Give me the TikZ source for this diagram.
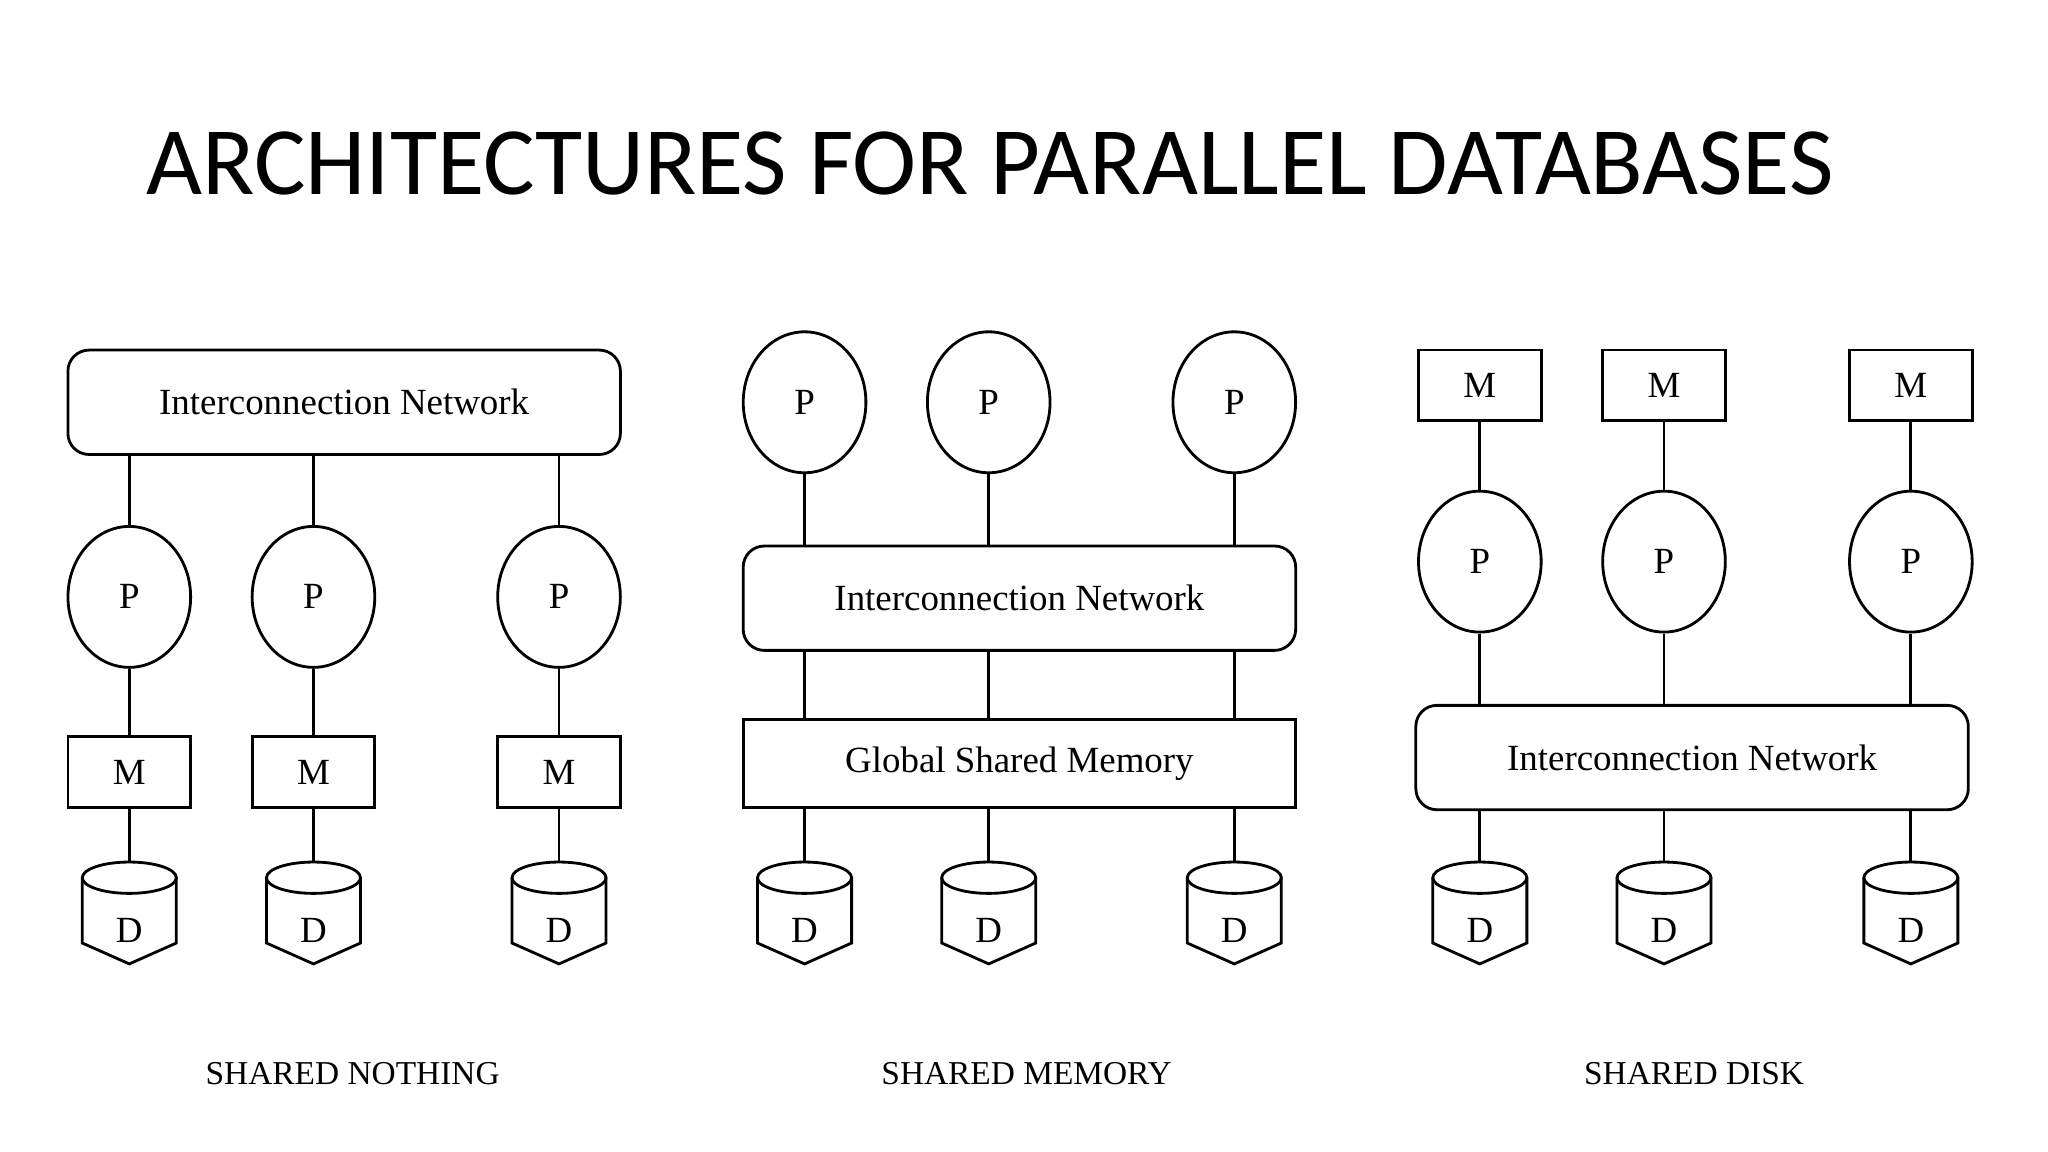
\documentclass[tikz,border=0pt]{standalone}
\usepackage{fontspec}
\setmainfont{Liberation Serif}
\newfontfamily\titlefont{Carlito}
\usetikzlibrary{shapes.geometric}

% one disk: name, x (top of the drum at y=660)
\newcommand{\dbdisk}[2]{%
  \draw (#2-36,672) -- (#2-36,722) -- (#2,738) -- (#2+36,722) -- (#2+36,672);
  \draw (#2,672) ellipse (36 and 12);
  \coordinate (#1-top) at (#2,660);
  \node[lbl] (#1) at (#2,712) {D};
}

\begin{document}
\begin{tikzpicture}[
    x=0.013061cm, y=-0.013061cm,
    line width=0.8pt,
    every node/.style={font=\fontsize{10.5}{12}\selectfont},
    lbl/.style={inner sep=0pt},
    proc/.style={draw, ellipse, minimum width=34.9pt, minimum height=40.1pt, inner sep=0pt},
    mem/.style={draw, rectangle, minimum width=34.9pt, minimum height=20.1pt, inner sep=0pt},
    net/.style={draw, rounded corners=6pt, minimum width=157.2pt, minimum height=29.7pt, inner sep=0pt},
    archcap/.style={font=\fontsize{9.5}{11}\selectfont},
  ]
  \useasboundingbox (0,0) rectangle (1568,882);

  \node[font=\titlefont\fontsize{27.5}{32}\selectfont] (title) at (758,125) {ARCHITECTURES FOR PARALLEL DATABASES};

  % shared nothing
  \node[net] (snnet) at (263.5,308) {Interconnection Network};
  \foreach \i/\x in {1/99,2/240,3/428}{
      \node[proc] (snp\i) at (\x,457) {P};
      \node[mem] (snm\i) at (\x,591) {M};
      \dbdisk{snd\i}{\x}
      \draw (snp\i.north |- snnet.south) -- (snp\i.north);
      \draw (snp\i.south) -- (snm\i.north);
      \draw (snm\i.south) -- (snd\i-top);
    }
  \node[archcap] (sncap) at (270,822) {SHARED NOTHING};

  % shared memory
  \node[net] (smnet) at (780.5,458) {Interconnection Network};
  \node[draw, minimum width=157.2pt, minimum height=24.9pt, inner sep=0pt] (smgsm) at (780.5,584.5) {Global Shared Memory};
  \foreach \i/\x in {1/616,2/757,3/945}{
      \node[proc] (smp\i) at (\x,308) {P};
      \dbdisk{smd\i}{\x}
      \draw (smp\i.south) -- (smp\i.south |- smnet.north);
      \draw (smp\i.south |- smnet.south) -- (smp\i.south |- smgsm.north);
      \draw (smp\i.south |- smgsm.south) -- (smd\i-top);
    }
  \node[archcap] (smcap) at (786,822) {SHARED MEMORY};

  % shared disk
  \node[net] (sdnet) at (1295.5,580) {Interconnection Network};
  \foreach \i/\x in {1/1133,2/1274,3/1463}{
      \node[mem] (sdm\i) at (\x,295) {M};
      \node[proc] (sdp\i) at (\x,430) {P};
      \dbdisk{sdd\i}{\x}
      \draw (sdm\i.south) -- (sdp\i.north);
      \draw (sdp\i.south) -- (sdp\i.south |- sdnet.north);
      \draw (sdp\i.south |- sdnet.south) -- (sdd\i-top);
    }
  \node[archcap] (sdcap) at (1297,822) {SHARED DISK};
\end{tikzpicture}
\end{document}
